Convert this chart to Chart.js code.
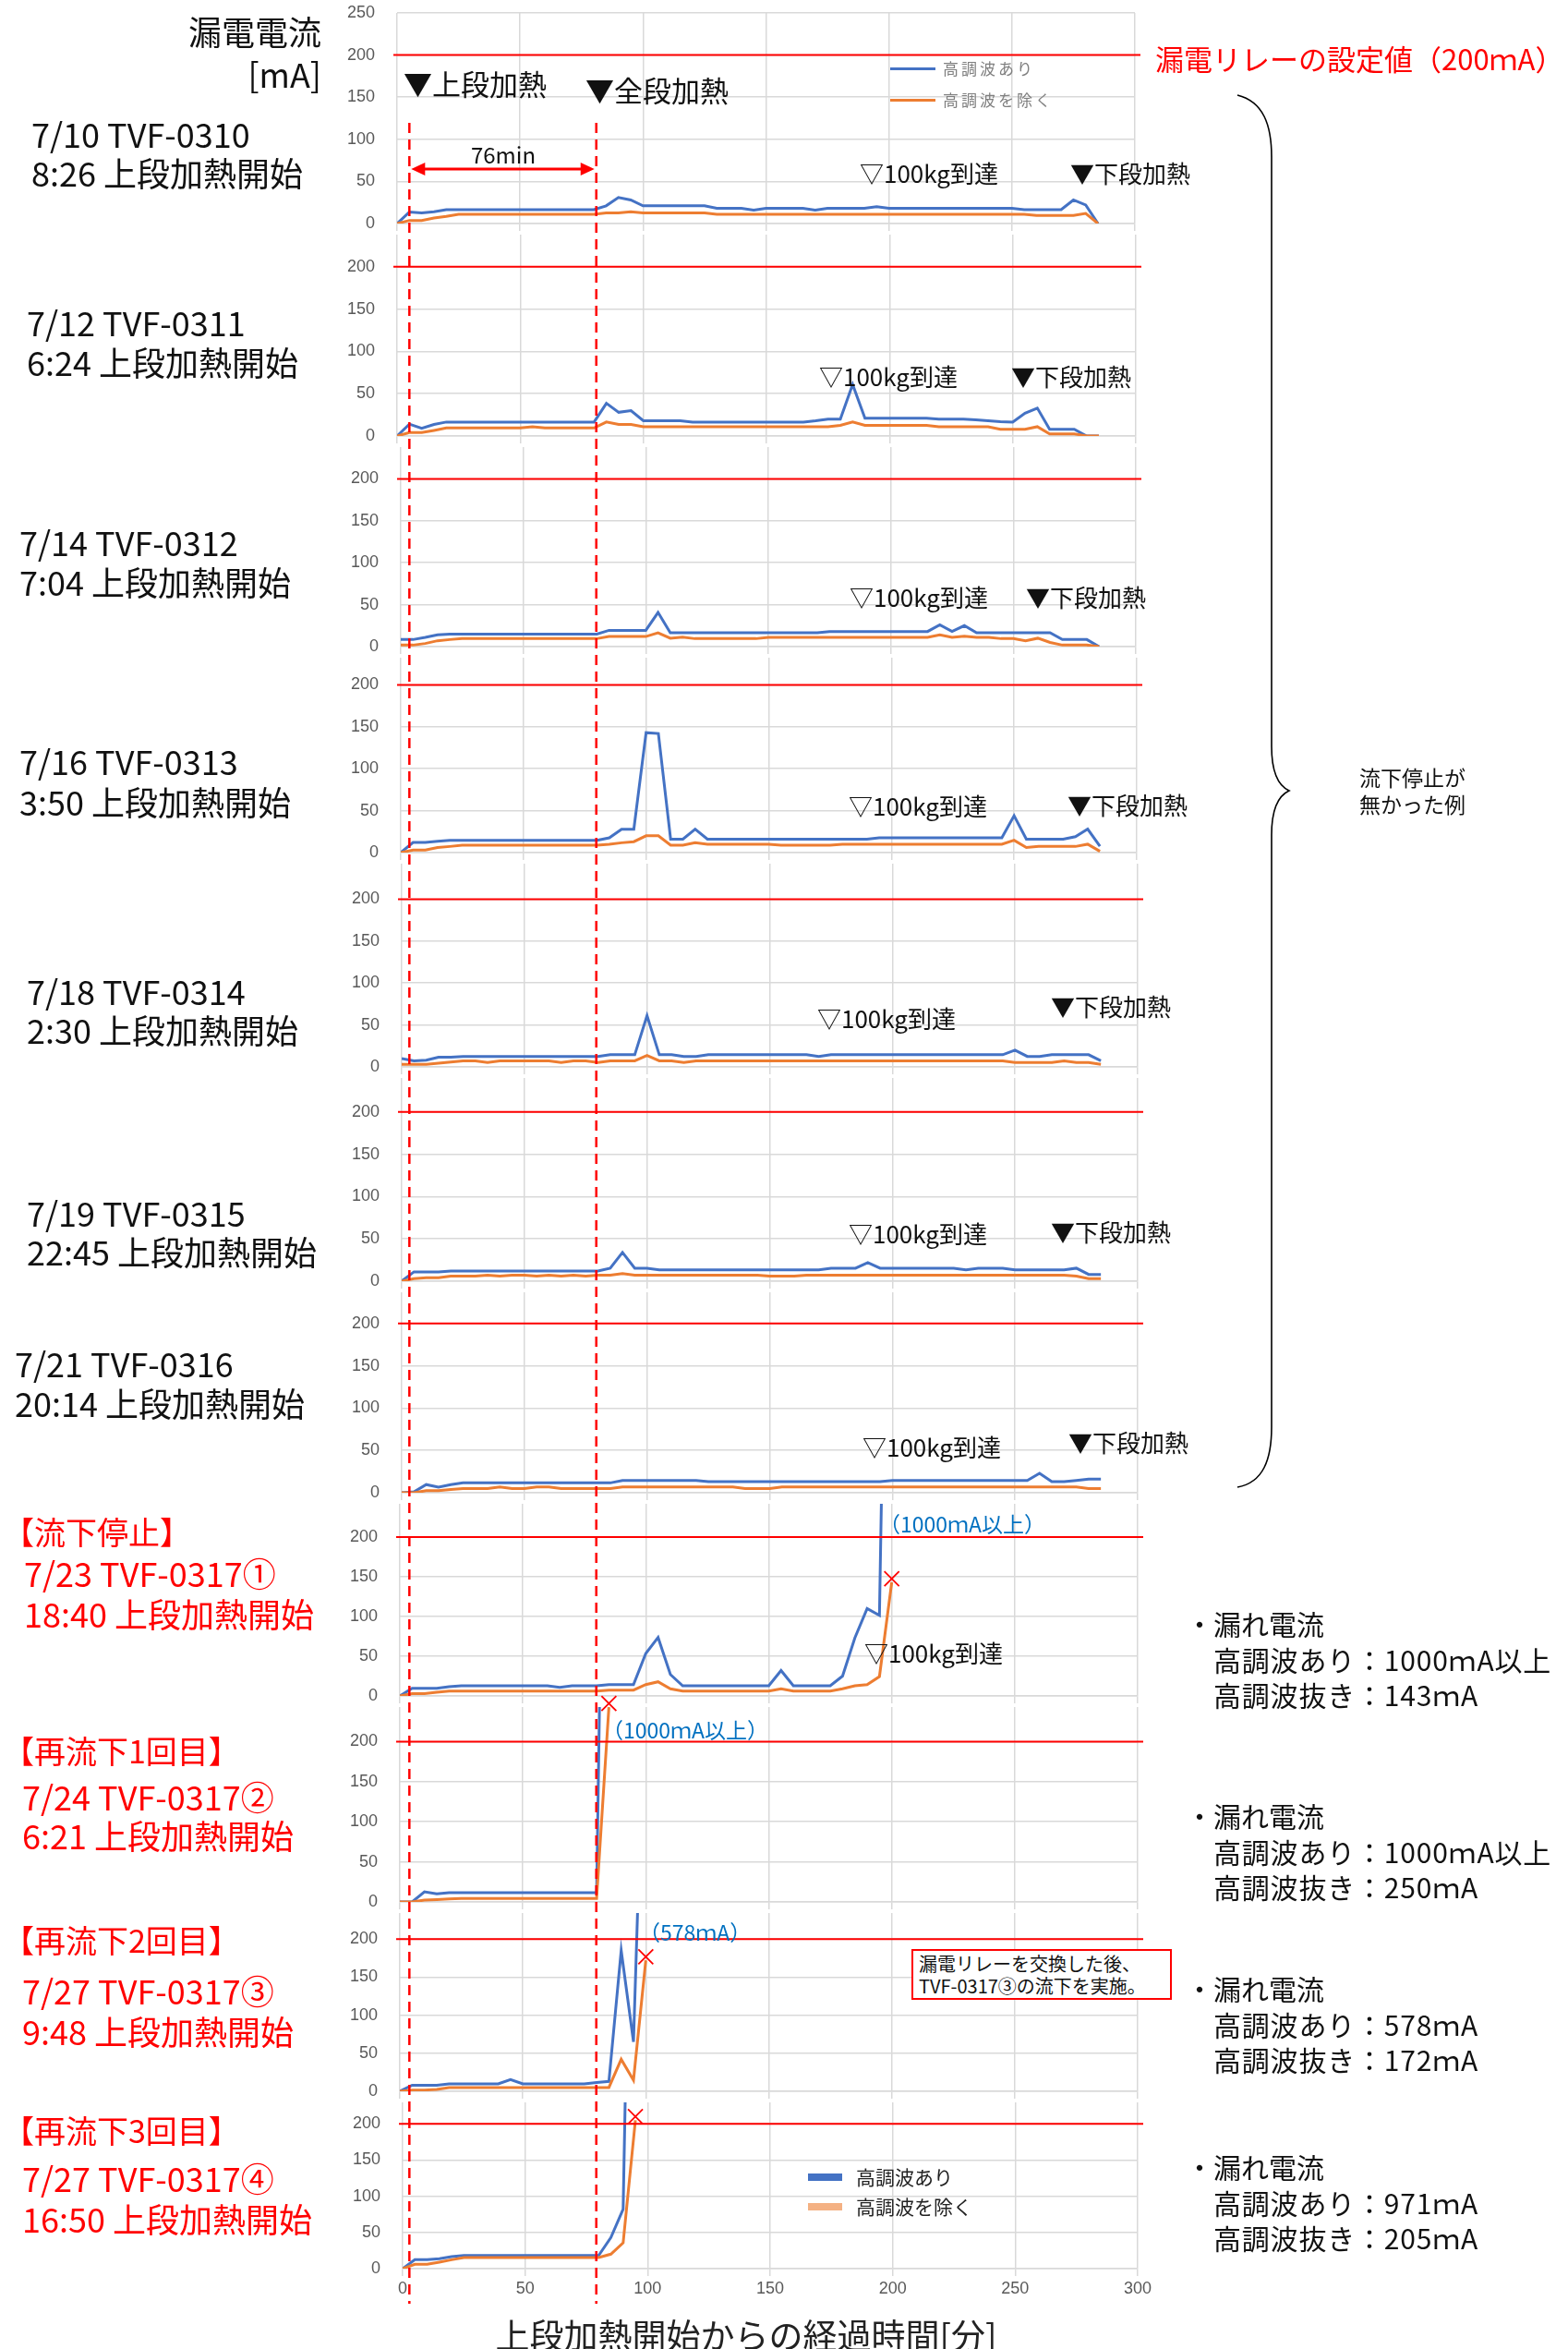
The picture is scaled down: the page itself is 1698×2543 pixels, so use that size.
<!DOCTYPE html>
<html><head><meta charset="utf-8">
<script src="https://cdn.jsdelivr.net/npm/chart.js@4.4.1/dist/chart.umd.min.js"></script>
<style>
html,body{margin:0;padding:0;background:#fff;}
#page{position:relative;width:1698px;height:2543px;overflow:hidden;background:#fff;}
.t{position:absolute;white-space:nowrap;z-index:300;line-height:1.2;font-family:"Liberation Sans Narrow","Noto Sans CJK JP",sans-serif;color:#111;}
.j{font-family:"Noto Sans CJK JP",sans-serif;}
</style></head><body><div id="page"></div>
<script>
// ---------------- data ----------------
const minutes = [0,5,10,15,20,25,30,35,40,45,50,55,60,65,70,75,80,85,90,95,100,105,110,115,120,125,130,135,140,145,150,155,160,165,170,175,180,185,190,195,200,205,210,215,220,225,230,235,240,245,250,255,260,265,270,275,280,285];
const relayLimit = 200;
const heatMarks = [5, 81];           // 上段加熱 / 全段加熱 (min)
const xTicks = [0,50,100,150,200,250,300];
const yTicks = [0,50,100,150,200,250];

// 7/10 TVF-0310
const p1High  = [0,13.6,12.5,14,16.5,16.5,16.5,16.5,16.5,16.5,16.5,16.5,16.5,16.5,16.5,16.5,16.5,21,31,28,21,21,21,21,21,21,18,18,18,16,18,18,18,18,16,18,18,18,18,20,18,18,18,18,18,18,18,18,18,18,18,16.5,16.5,16.5,16.5,28,22,0];
const p1Clean = [0,3.7,3.7,6.6,8.5,11,11,11,11,11,11,11,11,11,11,11,11,12.5,12.5,14,12.5,12.5,12.5,12.5,12.5,12.5,11,11,11,11,11,11,11,11,11,11,11,11,11,11,11,11,11,11,11,11,11,11,11,11,11,11,9.5,9.5,9.5,9.5,12,0];
// 7/12 TVF-0311
const p2High  = [0,14,9,13.6,16.5,16.5,16.5,16.5,16.5,16.5,16.5,16.5,16.5,16.5,16.5,16.5,16.5,38.6,28,30,18,18,18,18,16.5,16.5,16.5,16.5,16.5,16.5,16.5,16.5,16.5,16.5,18,20,20,61,21,21,21,21,21,21,20,20,20,19,18,17,16.5,27,33,8,8,8,0,0];
const p2Clean = [0,4,4,6.6,9.5,9.5,9.5,9.5,9.5,9.5,9.5,11,9.5,9.5,9.5,9.5,9.5,16.5,13.6,13.6,11,11,11,11,11,11,11,11,11,11,11,11,11,11,11,11,12.5,16.5,12.5,12.5,12.5,12.5,12.5,12.5,11,11,11,11,11,8,8,8,11,2.5,2.5,2.5,0,0];
// 7/14 TVF-0312
const p3High  = [8.4,8.4,11,14,15,15,15,15,15,15,15,15,15,15,15,15,15,19.4,19.4,19.4,19.4,40.7,16.5,16.5,16.5,16.5,16.5,16.5,16.5,16.5,16.5,16.5,16.5,16.5,16.5,18,18,18,18,18,18,18,18,18,26,18,25,16.5,16.5,16.5,16.5,16.5,16.5,16.5,8.4,8.4,8.4,0];
const p3Clean = [1.8,1.8,3.7,7,8.4,9.5,9.5,9.5,9.5,9.5,9.5,9.5,9.5,9.5,9.5,9.5,9.5,12,12,12,12,16.5,10,11.4,9.5,9.5,9.5,9.5,9.5,9.5,11,11,11,11,11,11,11,11,11,11,11,11,11,11,14,11,12.5,11,11,9.5,9.5,7,10,5,1.8,1.8,1.8,0];
// 7/16 TVF-0313
const p4High  = [0,12,12,13.6,14.7,14.7,14.7,14.7,14.7,14.7,14.7,14.7,14.7,14.7,14.7,14.7,14.7,17.6,27.9,27.9,143,142,16,16,28,16,16,16,16,16,16,16,16,16,16,16,16,16,16,17.6,17.6,17.6,17.6,17.6,17.6,17.6,17.6,17.6,17.6,17.6,44,16,16,16,16,19,28,7.7];
const p4Clean = [0,3,3,6,7.3,8.8,8.8,8.8,8.8,8.8,8.8,8.8,8.8,8.8,8.8,8.8,8.8,10,11.7,13,20,20,8.8,8.8,11.7,10,10,10,10,10,10,8.8,8.8,8.8,8.8,8.8,10,10,10,10,10,10,10,10,10,10,10,10,10,10,14.7,6,7.3,7.3,7.3,7.3,10,1.5];
// 7/18 TVF-0314
const p5High  = [10,7.2,8,11.6,11.6,12.5,12.5,12.5,12.5,12.5,12.5,12.5,12.5,12.5,12.5,12.5,12.5,14.5,14.5,14.5,61,14.5,14.5,12.5,12.5,14.5,14.5,14.5,14.5,14.5,14.5,14.5,14.5,14.5,12.5,14.5,14.5,14.5,14.5,14.5,14.5,14.5,14.5,14.5,14.5,14.5,14.5,14.5,14.5,14.5,20,12.5,12.5,14.5,14.5,14.5,14.5,7.2];
const p5Clean = [3,3,3,4.3,5.8,7.2,7.2,5.3,7.2,7.2,7.2,7.2,7.2,5.3,7.2,7.2,5.3,7.2,7.2,7.2,13.5,7.2,7.2,5.3,7.2,7.2,7.2,7.2,7.2,7.2,7.2,7.2,7.2,7.2,7.2,7.2,7.2,7.2,7.2,7.2,7.2,7.2,7.2,7.2,7.2,7.2,7.2,7.2,7.2,7.2,5.3,5.3,5.3,5.3,7.2,5.3,5.3,3];
// 7/19 TVF-0315
const p6High  = [0,11,11,11,12,12,12,12,12,12,12,12,12,12,12,12,12,15.4,34,15.4,15.4,13.5,13.5,13.5,13.5,13.5,13.5,13.5,13.5,13.5,13.5,13.5,13.5,13.5,13.5,15.4,15.4,15.4,22,15.4,15.4,15.4,15.4,15.4,15.4,15.4,13.5,15.4,15.4,15.4,13.5,13.5,13.5,13.5,13.5,15.4,8,8];
const p6Clean = [0,3,4,4,6,6,6,7.2,6,7.2,7.2,6,7.2,6,7.2,6,7.2,7.2,9,7.2,7.2,7.2,7.2,7.2,7.2,7.2,7.2,7.2,7.2,7.2,6,6,6,7.2,7.2,7.2,7.2,7.2,7.2,7.2,7.2,7.2,7.2,7.2,7.2,7.2,7.2,7.2,7.2,7.2,7.2,7.2,7.2,7.2,7.2,6,3,3];
// 7/21 TVF-0316
const p7High  = [0,1,9.6,6.7,9.6,11.6,11.6,11.6,11.6,11.6,11.6,11.6,11.6,11.6,11.6,11.6,11.6,11.6,14.5,14.5,14.5,14.5,14.5,14.5,14.5,13,13,13,13,13,13,13,13,13,13,13,13,13,13,13,14.5,14.5,14.5,14.5,14.5,14.5,14.5,14.5,14.5,14.5,14.5,14.5,23,13,13,14.5,16,16];
const p7Clean = [0,0,2.4,2.4,3.9,4.8,4.8,4.8,6.7,4.8,4.8,6.7,6.7,4.8,4.8,4.8,4.8,4.8,6.7,6.7,6.7,6.7,6.7,6.7,6.7,6.7,6.7,6.7,4.8,4.8,4.8,6.7,6.7,6.7,6.7,6.7,6.7,6.7,6.7,6.7,6.7,6.7,6.7,6.7,6.7,6.7,6.7,6.7,6.7,6.7,6.7,6.7,6.7,6.7,6.7,6.7,4.8,4.8];
// 7/23 TVF-0317① 流下停止
const p8High  = [0,9.7,9.7,9.7,11.6,12.8,12.8,12.8,12.8,12.8,12.8,12.8,12.8,10.9,12.8,12.8,12.8,14.3,14.3,14.3,53.5,73.6,27,12.8,12.8,12.8,12.8,12.8,12.8,12.8,12.8,32,12.8,12.8,12.8,12.8,25,73,110,101.5,1000];
const p8Clean = [0,3,3,4.6,6.2,6.2,6.2,6.2,6.2,6.2,6.2,6.2,6.2,6.2,6.2,6.2,6.2,7.4,7.4,7.4,14.3,17.8,9,6.2,6.2,6.2,6.2,6.2,6.2,6.2,6.2,9,6.2,6.2,6.2,6.2,9,12.8,14.3,24.4,143];
// 7/24 TVF-0317② 再流下1回目
const p9High  = [0,0,12.6,10,11.5,11.5,11.5,11.5,11.5,11.5,11.5,11.5,11.5,11.5,11.5,11.5,11.5,1000];
const p9Clean = [0,0,2.3,3,3.8,4.2,4.2,4.2,4.2,4.2,4.2,4.2,4.2,4.2,4.2,4.2,4.2,243];
// 7/27 TVF-0317③ 再流下2回目
const p10High  = [0,8,8,8,9.7,9.7,9.7,9.7,9.7,15.4,9.7,9.7,9.7,9.7,9.7,9.7,11.4,13,185,65,578];
const p10Clean = [0,1.6,1.6,2.4,4.9,4.9,4.9,4.9,4.9,4.9,4.9,4.9,4.9,4.9,4.9,4.9,4.9,4.9,42,14.6,172];
// 7/27 TVF-0317④ 再流下3回目
const p11High  = [0,12.3,12.3,13.6,16.5,18.2,18.2,18.2,18.2,18.2,18.2,18.2,18.2,18.2,18.2,18.2,18.2,43,82,971];
const p11Clean = [0,6,6,9,12.3,15.3,15.3,15.3,15.3,15.3,15.3,15.3,15.3,15.3,15.3,15.3,15.3,20,35.6,205];

const seriesHigh  = [p1High,p2High,p3High,p4High,p5High,p6High,p7High,p8High,p9High,p10High,p11High];
const seriesClean = [p1Clean,p2Clean,p3Clean,p4Clean,p5Clean,p6Clean,p7Clean,p8Clean,p9Clean,p10Clean,p11Clean];
const tripped = [false,false,false,false,false,false,false,true,true,true,true];

// ---------------- layout ----------------
const layout = [
 {y0:242, s:0.912, left:430, right:1229},
 {y0:472, s:0.915, left:430, right:1230},
 {y0:700, s:0.91,  left:434, right:1230},
 {y0:923, s:0.91,  left:434, right:1231},
 {y0:1155,s:0.91,  left:435, right:1232},
 {y0:1387,s:0.915, left:435, right:1232},
 {y0:1616,s:0.915, left:435, right:1232},
 {y0:1836,s:0.86,  left:433, right:1232},
 {y0:2059,s:0.87,  left:433, right:1232},
 {y0:2264,s:0.825, left:433, right:1232},
 {y0:2456,s:0.785, left:436, right:1232}
];
const BLUE='#4472c4', ORANGE='#ed7d31', RED='#ff0000', GRID='#d9d9d9', TICK='#595959';
const page = document.getElementById('page');

const relayPlugin = {
  id:'relay',
  afterDatasetsDraw(chart){
    const {ctx, chartArea, scales} = chart;
    const y = scales.y.getPixelForValue(relayLimit);
    ctx.save();
    ctx.strokeStyle = RED; ctx.lineWidth = 2;
    ctx.beginPath(); ctx.moveTo(chartArea.left-4, y); ctx.lineTo(chartArea.right+6, y); ctx.stroke();
    ctx.restore();
  }
};

const charts = [];
seriesHigh.forEach((high, i) => {
  const L = layout[i];
  const last = i === seriesHigh.length - 1;
  const XAXH = last ? 40 : 12, PADT = 14, PADR = 20, AXW = 60;
  const top = Math.round(L.y0 - 250*L.s - PADT);
  const h = Math.round(L.y0) + XAXH - top;
  const left = L.left - AXW;
  const w = L.right - L.left + AXW + PADR;
  const cv = document.createElement('canvas');
  cv.width = w; cv.height = h;
  cv.style.cssText = `position:absolute;left:${left}px;top:${top}px;width:${w}px;height:${h}px;z-index:${100-i};background:#fff;`;
  page.appendChild(cv);
  const pts = arr => arr.map((v,k) => ({x: minutes[k], y: v}));
  const chart = new Chart(cv, {
    type:'line',
    data:{datasets:[
      {label:'高調波あり', data:pts(high), borderColor:BLUE, borderWidth:3, pointRadius:0, tension:0, order:1},
      {label:'高調波を除く', data:pts(seriesClean[i]), borderColor:ORANGE, borderWidth:3, pointRadius:0, tension:0, order:0}
    ]},
    options:{
      responsive:false, animation:false, devicePixelRatio:1,
      layout:{padding:{top:PADT, right:PADR, left:0, bottom:0}},
      plugins:{legend:{display:false}, tooltip:{enabled:false}},
      scales:{
        x:{type:'linear', min:0, max:300,
           afterBuildTicks: sc => { sc.ticks = xTicks.map(v => ({value:v})); },
           afterFit: sc => { sc.height = XAXH; },
           ticks:{display:last, font:{family:'Liberation Sans', size:18}, color:TICK, padding:3, maxRotation:0},
           grid:{color:GRID, lineWidth:1.5, tickLength:8, drawTicks:true},
           border:{color:GRID, width:1.5}},
        y:{min:0, max:250,
           afterBuildTicks: sc => { sc.ticks = yTicks.map(v => ({value:v})); },
           afterFit: sc => { sc.width = AXW; },
           ticks:{font:{family:'Liberation Sans', size:18}, color:TICK, padding:0},
           grid:{color:GRID, lineWidth:1.5, drawTicks:true, tickLength:24, tickColor:'rgba(0,0,0,0)'},
           border:{display:false}}
      }
    },
    plugins:[relayPlugin]
  });
  charts.push({chart, left, top});
});

// ---------------- overlay: heating markers, arrow, trip crosses ----------------
const ov = document.createElement('canvas');
ov.width = 1698; ov.height = 2543;
ov.style.cssText = 'position:absolute;left:0;top:0;z-index:250;pointer-events:none;';
page.appendChild(ov);
const octx = ov.getContext('2d');
const c1 = charts[0];
const markX = heatMarks.map(v => c1.left + c1.chart.scales.x.getPixelForValue(v));
octx.strokeStyle = RED; octx.lineWidth = 2.5; octx.setLineDash([11,7]);
markX.forEach(x => { octx.beginPath(); octx.moveTo(x, 133); octx.lineTo(x, 2494); octx.stroke(); });
octx.setLineDash([]);
// double arrow
(function(){
  const y = 183, x1 = markX[0]+2, x2 = markX[1]-2, hl = 15, hh = 7;
  octx.lineWidth = 3; octx.beginPath(); octx.moveTo(x1+hl-2, y); octx.lineTo(x2-hl+2, y); octx.stroke();
  octx.fillStyle = RED;
  octx.beginPath(); octx.moveTo(x1, y); octx.lineTo(x1+hl, y-hh); octx.lineTo(x1+hl, y+hh); octx.closePath(); octx.fill();
  octx.beginPath(); octx.moveTo(x2, y); octx.lineTo(x2-hl, y-hh); octx.lineTo(x2-hl, y+hh); octx.closePath(); octx.fill();
})();
// crosses at end of 高調波を除く for tripped runs
octx.lineWidth = 1.8; octx.strokeStyle = RED;
tripped.forEach((t, i) => {
  if (!t) return;
  const c = charts[i]; const arr = seriesClean[i]; const k = arr.length - 1;
  const x = c.left + c.chart.scales.x.getPixelForValue(minutes[k]);
  const y = c.top + c.chart.scales.y.getPixelForValue(arr[k]) - 4;
  const r = 8;
  octx.beginPath(); octx.moveTo(x-r, y-r); octx.lineTo(x+r, y+r); octx.moveTo(x+r, y-r); octx.lineTo(x-r, y+r); octx.stroke();
});

// brace
page.insertAdjacentHTML('beforeend',
 '<svg width="1698" height="2543" style="position:absolute;left:0;top:0;z-index:260;pointer-events:none">' +
 '<path d="M1340,103 C1368,110 1377,135 1377,170 L1377,808 C1377,835 1383,850 1396,856 C1383,862 1377,877 1377,904 L1377,1545 C1377,1580 1368,1605 1340,1610" fill="none" stroke="#000" stroke-width="1.6"/></svg>');

// ---------------- texts ----------------
function T(txt, x, y, size, color, opt){
  opt = opt || {};
  const d = document.createElement('div');
  d.className = 't' + (opt.jp ? ' j' : '');
  d.textContent = txt;
  d.style.left = x + 'px'; d.style.top = y + 'px';
  d.style.fontSize = size + 'px';
  if (color) d.style.color = color;
  if (opt.ls) d.style.letterSpacing = opt.ls + 'px';
  let tx = opt.align === 'right' ? '-100%' : (opt.align === 'center' ? '-50%' : '0');
  d.style.transform = `translate(${tx},-50%)`;
  page.appendChild(d);
  return d;
}
// header
T('漏電電流', 348, 34, 36, '#111', {align:'right'});
T('[mA]', 348, 80, 36, '#111', {align:'right'});
// left labels
const leftLabels = [
 ['7/10 TVF-0310',34,145],['8:26 上段加熱開始',34,187],
 ['7/12 TVF-0311',29,349],['6:24 上段加熱開始',29,392],
 ['7/14 TVF-0312',21,587],['7:04 上段加熱開始',21,630],
 ['7/16 TVF-0313',21,824],['3:50 上段加熱開始',21,868],
 ['7/18 TVF-0314',29,1073],['2:30 上段加熱開始',29,1115],
 ['7/19 TVF-0315',29,1313],['22:45 上段加熱開始',29,1355],
 ['7/21 TVF-0316',16,1476],['20:14 上段加熱開始',16,1519]
];
leftLabels.forEach(l => T(l[0], l[1], l[2], 36, '#111'));
const redLabels = [
 ['【流下停止】',3,1658,34],['7/23 TVF-0317①',26,1703,36],['18:40 上段加熱開始',26,1747,36],
 ['【再流下1回目】',3,1895,34],['7/24 TVF-0317②',24,1945,36],['6:21 上段加熱開始',24,1987,36],
 ['【再流下2回目】',3,2100,34],['7/27 TVF-0317③',24,2155,36],['9:48 上段加熱開始',24,2199,36],
 ['【再流下3回目】',3,2306,34],['7/27 TVF-0317④',24,2358,36],['16:50 上段加熱開始',24,2402,36]
];
redLabels.forEach(l => T(l[0], l[1], l[2], l[3], RED));
// panel 1 annotations
T('▼上段加熱', 437, 90, 31);
T('▼全段加熱', 634, 97, 31);
T('76min', 545, 167, 24, '#111', {align:'center'});
T('漏電リレーの設定値（200ｍA）', 1251, 63, 31, RED);
// legend (panel 1)
[[BLUE,'高調波あり',74],[ORANGE,'高調波を除く',108]].forEach(r => {
  const ln = document.createElement('div');
  ln.style.cssText = `position:absolute;left:964px;top:${r[2]-1.5}px;width:49px;height:3px;background:${r[0]};z-index:300;`;
  page.appendChild(ln);
  T(r[1], 1021, r[2], 17, '#7f7f7f', {jp:true, ls:3});
});
// event labels
const events = [
 ['▽100kg到達',931,187],['▼下段加熱',1159,187],
 ['▽100kg到達',887,407],['▼下段加熱',1095,407],
 ['▽100kg到達',920,646],['▼下段加熱',1111,646],
 ['▽100kg到達',919,872],['▼下段加熱',1156,871],
 ['▽100kg到達',885,1102],['▼下段加熱',1138,1089],
 ['▽100kg到達',919,1335],['▼下段加熱',1138,1333],
 ['▽100kg到達',934,1566],['▼下段加熱',1157,1561],
 ['▽100kg到達',936,1789]
];
events.forEach(e => T(e[0], e[1], e[2], 26));
// blue value notes
T('（1000ｍA以上）', 952, 1650, 23, '#0070c0');
T('（1000ｍA以上）', 652, 1873, 23, '#0070c0');
T('（578ｍA）', 692, 2092, 23, '#0070c0');
// box
const box = document.createElement('div');
box.style.cssText = 'position:absolute;left:987px;top:2110px;width:282px;height:55px;border:2px solid #ff0000;background:#fff;z-index:300;font-family:"Liberation Sans Narrow","Noto Sans CJK JP",sans-serif;font-size:20px;line-height:24px;padding:2px 0 0 6px;box-sizing:border-box;color:#111;white-space:nowrap;';
box.innerHTML = '漏電リレーを交換した後、<br>TVF-0317③の流下を実施。';
page.appendChild(box);
// bracket note
T('流下停止が', 1472, 842, 23, '#111', {jp:true});
T('無かった例', 1472, 871, 23, '#111', {jp:true});
// right blocks
const blocks = [
 [1757,'1000ｍA以上','143ｍA'],
 [1965,'1000ｍA以上','250ｍA'],
 [2152,'578ｍA','172ｍA'],
 [2345,'971ｍA','205ｍA']
];
blocks.forEach(b => {
  T('・漏れ電流', 1284, b[0], 30, '#111', {jp:true});
  T('高調波あり：' + b[1], 1314, b[0]+39, 30, '#111', {jp:true, ls:0.8});
  T('高調波抜き：' + b[2], 1314, b[0]+77, 30, '#111', {jp:true, ls:0.8});
});
// legend (bottom panel)
[[BLUE,'高調波あり',2357],['#f4b183','高調波を除く',2389]].forEach(r => {
  const ln = document.createElement('div');
  ln.style.cssText = `position:absolute;left:875px;top:${r[2]-4}px;width:37px;height:8px;background:${r[0]};z-index:300;`;
  page.appendChild(ln);
  T(r[1], 927, r[2], 21, '#222');
});
// x axis title
T('上段加熱開始からの経過時間[分]', 808, 2527, 37, '#222', {align:'center', jp:true});
</script>
</body></html>
